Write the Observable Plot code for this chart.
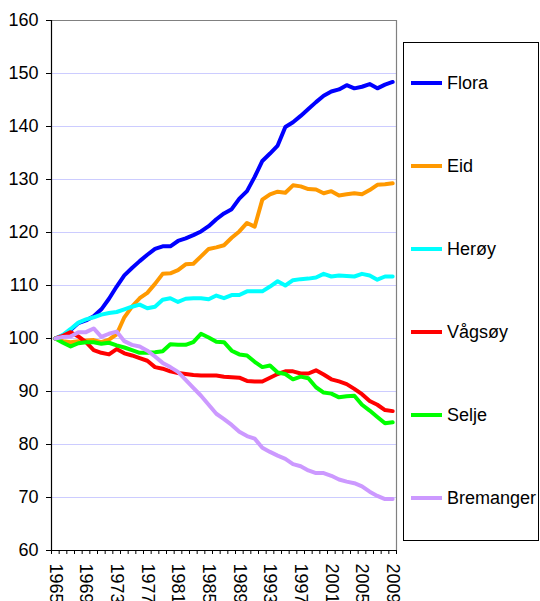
<!DOCTYPE html>
<html>
<head>
<meta charset="utf-8">
<script src="https://cdn.jsdelivr.net/npm/d3@7"></script>
<script src="https://cdn.jsdelivr.net/npm/@observablehq/plot@0.6"></script>
<style>
  html, body { margin: 0; padding: 0; background: #fff; }
  #chart { width: 540px; height: 601px; overflow: hidden; }
</style>
</head>
<body>
<div id="chart"></div>
<script>
const years = [1965,1966,1967,1968,1969,1970,1971,1972,1973,1974,1975,1976,1977,1978,1979,1980,
  1981,1982,1983,1984,1985,1986,1987,1988,1989,1990,1991,1992,1993,1994,1995,1996,1997,1998,1999,
  2000,2001,2002,2003,2004,2005,2006,2007,2008,2009];
const yearLabels = [1965,1969,1973,1977,1981,1985,1989,1993,1997,2001,2005,2009];
const yTicks = [60,70,80,90,100,110,120,130,140,150,160];

const names = ["Flora","Eid","Herøy","Vågsøy","Selje","Bremanger"];
const colors = ["#0000ff","#ff9900","#00ffff","#ff0000","#00ff00","#cc99ff"];

const flora = [100,100.6,101.6,102.9,103.4,104.2,105.5,107.5,109.8,111.9,113.3,114.6,115.8,116.9,117.4,117.4,
  118.4,118.9,119.5,120.2,121.2,122.5,123.6,124.4,126.4,127.8,130.5,133.5,134.9,136.4,139.9,140.8,142,143.3,144.6,
  145.8,146.6,147,147.8,147.2,147.5,148,147.2,147.9,148.4];
const eid = [100,99.5,99.3,99.5,99.6,99.7,99.3,99.8,100.8,104,106,107.6,108.6,110.3,112.2,112.3,
  112.9,114,114.1,115.5,116.9,117.2,117.6,119,120.2,121.8,121.1,126.2,127.2,127.7,127.5,128.9,128.7,128.2,128.1,
  127.4,127.8,127,127.2,127.4,127.2,128,129,129.1,129.3];
const heroy = [100,100.7,101.8,103,103.6,104,104.5,104.8,105,105.5,106,106.4,105.7,106,107.3,107.6,
  106.9,107.5,107.6,107.6,107.4,108.1,107.6,108.2,108.2,108.9,108.9,108.9,109.8,110.8,110,111,111.2,111.3,111.5,
  112.2,111.7,111.9,111.8,111.7,112.2,111.9,111.1,111.7,111.7];
const vagsoy = [100,100.5,101.2,100.4,99.3,97.8,97.3,97,98,97.2,96.8,96.3,95.8,94.6,94.3,93.8,
  93.5,93.3,93.1,93,93,93,92.8,92.7,92.6,92,91.9,91.9,92.6,93.3,93.8,93.8,93.4,93.4,94,
  93.2,92.3,91.9,91.4,90.5,89.5,88.2,87.5,86.5,86.3];
const selje = [100,99.2,98.5,99.1,99.3,99.3,99,99.2,98.7,98.3,97.8,97.3,97.3,97.4,97.6,98.9,
  98.8,98.8,99.3,100.9,100.2,99.4,99.3,97.7,97,96.8,95.6,94.6,94.9,93.6,93.3,92.3,92.8,92.5,90.8,
  89.8,89.6,88.9,89.1,89.2,87.5,86.4,85.2,84,84.2];
const bremanger = [100,100.3,100.4,101.2,101.2,101.9,100.3,100.9,101.3,99.5,98.8,98.5,97.7,96.6,95.4,94.6,
  93.7,92.2,90.7,89.2,87.5,85.8,84.8,83.7,82.4,81.6,81.1,79.4,78.6,77.9,77.3,76.3,75.9,75.1,74.6,
  74.6,74.1,73.4,73,72.7,72.1,71.1,70.3,69.7,69.7];

const series = [flora, eid, heroy, vagsoy, selje, bremanger];
const data = names.flatMap((name, i) => years.map((year, j) => ({name, year, value: series[i][j]})));
const boundaries = [years[0] - 0.5, ...years.map(y => y + 0.5)];
const gridTicks = yTicks.slice(1, -1);

const chart = Plot.plot({
  width: 540,
  height: 601,
  marginLeft: 51,
  marginRight: 144,
  marginTop: 20,
  marginBottom: 51,
  style: {fontFamily: "'Liberation Sans', Arial, sans-serif", fontSize: "18px", background: "#fff", overflow: "visible"},
  x: {type: "linear", domain: [years[0] - 0.5, years[years.length - 1] + 0.5]},
  y: {domain: [yTicks[0], yTicks[yTicks.length - 1]]},
  color: {domain: names, range: colors},
  marks: [
    Plot.ruleY(gridTicks, {stroke: "#ccccff", strokeWidth: 1.2}),
    Plot.ruleY([yTicks[yTicks.length - 1]], {stroke: "#808080", strokeWidth: 1.2}),
    Plot.ruleX([boundaries[boundaries.length - 1]], {stroke: "#808080", strokeWidth: 1.2}),
    Plot.axisY({ticks: yTicks, tickSize: 5, tickPadding: 8, label: null, fontSize: 18, fill: "#000"}),
    Plot.axisX({ticks: boundaries, tickSize: 4, tickFormat: () => "", label: null}),
    Plot.axisX({ticks: yearLabels, tickSize: 0, tickPadding: 13, tickRotate: 90, tickFormat: d => String(d), label: null, fontSize: 18, fill: "#000"}),
    Plot.lineY(data, {x: "year", y: "value", z: "name", stroke: "name", strokeWidth: 4, strokeLinejoin: "round", strokeLinecap: "round"}),
    Plot.ruleX([boundaries[0]], {stroke: "#000", strokeWidth: 1.2}),
    Plot.ruleY([yTicks[0]], {stroke: "#000", strokeWidth: 1.2})
  ]
});

// Legend box on the right
const svg = d3.select(chart);
const lg = svg.append("g")
  .attr("font-family", "'Liberation Sans', Arial, sans-serif")
  .attr("font-size", 18)
  .attr("text-anchor", "start");
lg.append("rect").attr("x", 403.5).attr("y", 42.5).attr("width", 135).attr("height", 498)
  .attr("fill", "#fff").attr("stroke", "#000").attr("stroke-width", 1);
names.forEach((name, i) => {
  const cy = 83 + i * 83;
  lg.append("line").attr("x1", 411).attr("x2", 442).attr("y1", cy).attr("y2", cy)
    .attr("stroke", colors[i]).attr("stroke-width", 4);
  lg.append("text").attr("x", 447).attr("y", cy).attr("dy", "0.35em")
    .attr("text-anchor", "start").attr("fill", "#000").text(name);
});

document.getElementById("chart").appendChild(chart);
</script>
</body>
</html>
